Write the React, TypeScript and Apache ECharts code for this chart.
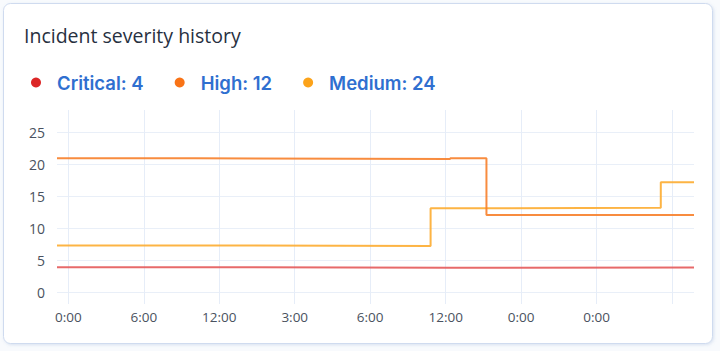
import React, { useEffect, useRef } from "react";
import * as echarts from "echarts";

const seriesNames = ["Critical", "High", "Medium"];
const legendCounts = [4, 12, 24];
const legendColors = ["#dc2626", "#f97316", "#fca31a"];
const lineColors = ["#e45a5a", "#f7802a", "#fdac30"];

// x positions are in units of one tick step (tick k sits at x = k)
const tickLabels = ["0:00", "6:00", "12:00", "3:00", "6:00", "12:00", "0:00", "0:00", ""];
const tickValues = [0, 1, 2, 3, 4, 5, 6, 7, 8];
const yTicks = [0, 5, 10, 15, 20, 25];

const criticalX = [-0.15, 1.68, 5.06, 8.29];
const criticalY = [3.95, 3.85, 3.92, 3.92];
const highX = [-0.15, 1.68, 5.06, 5.54, 8.29];
const highY = [20.95, 20.85, 20.98, 12.1, 12.1];
const mediumX = [-0.15, 1.68, 4.8, 5.06, 7.85, 8.29];
const mediumY = [7.35, 7.25, 13.15, 13.22, 17.2, 17.2];

const zip = (xs: number[], ys: number[]) => xs.map((x, i) => [x, ys[i]]);

export default function App() {
  const ref = useRef<HTMLDivElement>(null);
  useEffect(() => {
    if (!ref.current) return;
    const chart = echarts.init(ref.current, null, { renderer: "svg" });
    const data = [zip(criticalX, criticalY), zip(highX, highY), zip(mediumX, mediumY)];
    chart.setOption({
      animation: false,
      backgroundColor: "#f8fafd",
      graphic: [
        {
          type: "rect",
          shape: { x: 3.5, y: 3.5, width: 709, height: 340, r: 7 },
          style: {
            fill: "#ffffff",
            stroke: "#cfdbef",
            lineWidth: 1,
            shadowBlur: 3,
            shadowColor: "rgba(120,150,200,0.25)",
            shadowOffsetX: 1,
            shadowOffsetY: 1,
          },
          z: -10,
          silent: true,
        },
      ],
      title: {
        text: "Incident severity history",
        left: 24,
        top: 25,
        padding: 0,
        textStyle: {
          fontFamily: "Open Sans",
          fontSize: 19.5,
          fontWeight: 500,
          color: "#27303f",
        },
      },
      legend: {
        left: 31,
        top: 73,
        padding: 0,
        icon: "circle",
        itemWidth: 10,
        itemHeight: 10,
        itemGap: 31,
        data: seriesNames,
        formatter: (name: string) => `${name}: ${legendCounts[seriesNames.indexOf(name)]}`,
        textStyle: {
          color: "#2f6fd0",
          fontFamily: "Inter",
          fontWeight: 600,
          fontSize: 18.5,
          padding: [0, 0, 0, 11],
        },
      },
      grid: { left: 57, right: 26, top: 110, bottom: 47, containLabel: false },
      xAxis: {
        type: "value",
        min: -0.15,
        max: 8.29,
        axisLine: { show: false },
        axisTick: { show: false, customValues: tickValues },
        axisLabel: {
          customValues: tickValues,
          formatter: (v: number) => tickLabels[Math.round(v)] ?? "",
          color: "#4a5260",
          fontFamily: "Open Sans",
          fontSize: 13.5,
          margin: 6,
        },
        splitLine: { show: true, lineStyle: { color: "#e6edf8", width: 1 } },
      },
      yAxis: {
        type: "value",
        min: -1.8,
        max: 28.5,
        axisLine: { show: false },
        axisTick: { show: false, customValues: yTicks },
        axisLabel: {
          customValues: yTicks,
          color: "#4a5260",
          fontFamily: "Open Sans",
          fontSize: 14,
          margin: 12,
        },
        splitLine: { show: true, lineStyle: { color: "#e9eff8", width: 1 } },
      },
      series: seriesNames.map((name, i) => ({
        name,
        type: "line",
        step: "end",
        symbol: "none",
        data: data[i],
        itemStyle: { color: legendColors[i] },
        lineStyle: { color: lineColors[i], width: 2, opacity: 0.9 },
        z: 3 - i,
      })),
    });
    return () => chart.dispose();
  }, []);
  return (
    <div
      ref={ref}
      style={{ position: "absolute", left: 0, top: 0, width: 720, height: 351 }}
    />
  );
}
